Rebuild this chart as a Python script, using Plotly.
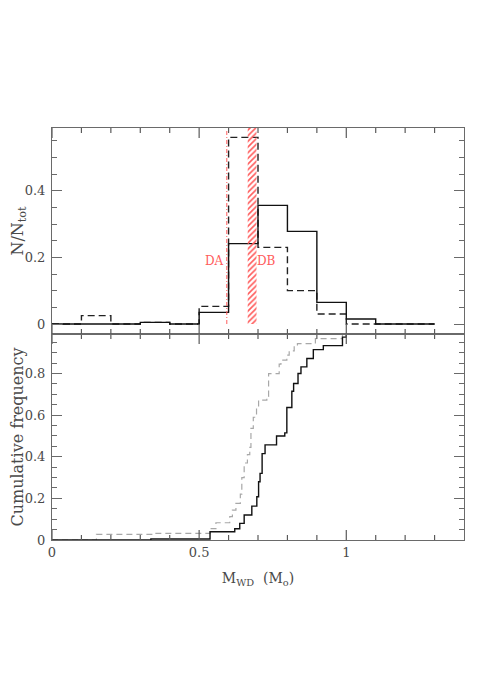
import plotly.graph_objects as go

# top panel: normalised histograms, 0.1 wide bins
bin_edges = [0.0, 0.1, 0.2, 0.3, 0.4, 0.5, 0.6, 0.7, 0.8, 0.9, 1.0, 1.1, 1.2, 1.3]
hist_solid = [0, 0, 0, 0.005, 0, 0.035, 0.241, 0.356, 0.278, 0.065, 0.015, 0, 0]
hist_dashed = [0, 0.025, 0, 0.005, 0, 0.053, 0.56, 0.23, 0.10, 0.03, 0, 0, 0]

# bottom panel: cumulative step curves
cum_solid_x = [0.0, 0.336, 0.537, 0.621, 0.638, 0.653, 0.679, 0.696, 0.702, 0.707,
               0.714, 0.724, 0.763, 0.791, 0.798, 0.815, 0.821, 0.836, 0.846, 0.866,
               0.888, 0.922, 0.987, 1.0, 1.02]
cum_solid_y = [0.0, 0.005, 0.04, 0.054, 0.08, 0.12, 0.163, 0.208, 0.28, 0.32,
               0.415, 0.457, 0.50, 0.515, 0.637, 0.715, 0.752, 0.80, 0.832, 0.872,
               0.915, 0.934, 0.975, 1.0, 1.0]
cum_dashed_x = [0.0, 0.151, 0.35, 0.537, 0.557, 0.604, 0.613, 0.625, 0.64, 0.645,
                0.653, 0.664, 0.672, 0.676, 0.684, 0.695, 0.702, 0.730, 0.736, 0.772,
                0.778, 0.798, 0.806, 0.823, 0.834, 0.895, 0.987, 1.0]
cum_dashed_y = [0.0, 0.027, 0.032, 0.055, 0.083, 0.112, 0.144, 0.176, 0.22, 0.30,
                0.37, 0.41, 0.445, 0.536, 0.59, 0.637, 0.672, 0.69, 0.80, 0.845,
                0.864, 0.888, 0.909, 0.933, 0.944, 0.968, 1.0, 1.0]

# DA / DB mean masses
da_mass = 0.594
db_band = [0.665, 0.695]

x_range = [0, 1.4]
top_range = [-0.03, 0.588]
bot_range = [0, 0.99]
x_major_ticks = [0.0, 0.5, 1.0]
x_minor_ticks = [0.1, 0.2, 0.3, 0.4, 0.6, 0.7, 0.8, 0.9, 1.1, 1.2, 1.3]

red = '#ff5c5c'
axis_col = '#6a6a6a'
text_col = '#4a4a4a'
font_serif = 'DejaVu Serif, Liberation Serif, serif'

W, H = 482, 686
M = dict(l=44, r=26, t=120, b=154)
panel_px = (H - M['t'] - M['b']) / 2

fig = go.Figure()

# top panel histograms
fig.add_trace(go.Scatter(x=bin_edges, y=hist_dashed + [hist_dashed[-1]], mode='lines',
                         line=dict(color='#222222', width=1.4, dash='7px,4px', shape='hv'),
                         xaxis='x2', yaxis='y2', showlegend=False))
fig.add_trace(go.Scatter(x=bin_edges, y=hist_solid + [hist_solid[-1]], mode='lines',
                         line=dict(color='#111111', width=1.4, shape='hv'),
                         xaxis='x2', yaxis='y2', showlegend=False))

# DB hatched band
band_top = top_range[1]
fig.add_trace(go.Scatter(x=[db_band[0], db_band[1], db_band[1], db_band[0], db_band[0]],
                         y=[0, 0, band_top, band_top, 0], mode='lines', fill='toself',
                         line=dict(width=0, color='rgba(0,0,0,0)'),
                         fillcolor='rgba(0,0,0,0)',
                         fillpattern=dict(shape='/', fgcolor=red, bgcolor='rgba(0,0,0,0)',
                                          size=4, solidity=0.4),
                         xaxis='x2', yaxis='y2', showlegend=False, hoverinfo='skip'))

# DA dash-dot line
fig.add_trace(go.Scatter(x=[da_mass, da_mass], y=[0, 0.585], mode='lines',
                         line=dict(color=red, width=1, dash='4px,2px,1px,2px'),
                         xaxis='x2', yaxis='y2', showlegend=False))

# bottom panel cumulative curves
fig.add_trace(go.Scatter(x=cum_dashed_x, y=cum_dashed_y, mode='lines',
                         line=dict(color='#a8a8a8', width=1.2, dash='6px,4px', shape='hv'),
                         xaxis='x', yaxis='y', showlegend=False))
fig.add_trace(go.Scatter(x=cum_solid_x, y=cum_solid_y, mode='lines',
                         line=dict(color='#111111', width=1.4, shape='hv'),
                         xaxis='x', yaxis='y', showlegend=False))

# x ticks inside the bottom and top frame edges of each panel, one trace per tick
for xa, ya, yr in [('x', 'y', bot_range), ('x2', 'y2', top_range)]:
    per_px = (yr[1] - yr[0]) / panel_px
    for ticks, tlen in [(x_major_ticks, 10), (x_minor_ticks, 5)]:
        for t in ticks:
            for y_edge, sgn in [(yr[0], 1), (yr[1], -1)]:
                fig.add_trace(go.Scatter(x=[t, t], y=[y_edge, y_edge + sgn * tlen * per_px],
                                         mode='lines', line=dict(color='#5a5a5a', width=1.2),
                                         xaxis=xa, yaxis=ya, showlegend=False,
                                         hoverinfo='skip'))

fig.add_annotation(x=0.553, y=0.19, xref='x2', yref='y2', text='DA', showarrow=False,
                   font=dict(family=font_serif, size=12, color=red))
fig.add_annotation(x=0.728, y=0.19, xref='x2', yref='y2', text='DB', showarrow=False,
                   font=dict(family=font_serif, size=12, color=red))

base = dict(showline=True, mirror='ticks', linecolor=axis_col, linewidth=1,
            tickwidth=1, tickcolor=axis_col, tickmode='linear', tick0=0,
            showgrid=False, zeroline=False, automargin=False,
            tickfont=dict(family=font_serif, size=13, color=text_col))
ax_x = dict(base, range=x_range, dtick=0.5, ticks='')
ax_y = dict(base, dtick=0.2, ticks='inside', ticklen=10, ticklabelstandoff=3,
            minor=dict(ticks='inside', ticklen=5, dtick=0.05, tickcolor=axis_col))

fig.update_layout(
    template='none',
    width=W, height=H,
    margin=M,
    paper_bgcolor='white', plot_bgcolor='white',
    font=dict(family=font_serif, size=14, color=text_col),
    xaxis=dict(ax_x, anchor='y',
               title=dict(text='M<sub>WD</sub>  (M<sub>o</sub>)', standoff=14,
                          font=dict(size=14, color=text_col))),
    yaxis=dict(ax_y, domain=[0, 0.5], range=bot_range, anchor='x',
               title=dict(text='Cumulative frequency', standoff=1,
                          font=dict(size=16, color=text_col))),
    xaxis2=dict(ax_x, anchor='y2', showticklabels=False),
    yaxis2=dict(ax_y, domain=[0.5, 1], range=top_range, anchor='x2',
                title=dict(text='N/N<sub>tot</sub>', standoff=1,
                           font=dict(size=16, color=text_col))),
)

fig.write_html("out.html")
